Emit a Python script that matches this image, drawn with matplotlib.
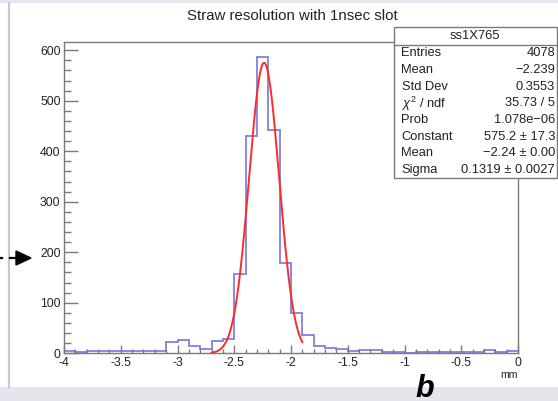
import numpy as np
import matplotlib
matplotlib.use("Agg")
import matplotlib.pyplot as plt
from matplotlib.patches import Rectangle, Polygon
from matplotlib.lines import Line2D
from matplotlib.ticker import MultipleLocator, FuncFormatter

# ---- data ----
bin_edges_range = (-4.0, 0.0)
n_bins = 40
counts = [5, 2, 4, 4, 4, 4, 5, 4, 5, 23,
          26, 15, 9, 25, 28, 157, 430, 587, 443, 179,
          80, 36, 15, 11, 8, 5, 7, 7, 3, 3,
          0, 3, 3, 3, 3, 2, 3, 7, 2, 4]
fit_constant = 575.2
fit_mean = -2.237
fit_sigma = 0.1319
fit_range = (-2.7, -1.9)
title = "Straw resolution with 1nsec slot"
stats_name = "ss1X765"
stats_labels = ["Entries", "Mean", "Std Dev", r"$\chi^2$ / ndf", "Prob",
                "Constant", "Mean", "Sigma"]
stats_values = ["4078", "\u22122.239", "0.3553", "35.73 / 5", "1.078e\u221206",
                "575.2 \u00b1 17.3", "\u22122.24 \u00b1 0.00", "0.1319 \u00b1 0.0027"]
y_ticks = [0, 100, 200, 300, 400, 500, 600]
x_ticks = [-4, -3.5, -3, -2.5, -2, -1.5, -1, -0.5, 0]

W, H = 558, 401
plt.rcParams['font.family'] = ['Liberation Sans', 'DejaVu Sans']
plt.rcParams['mathtext.fontset'] = 'custom'
plt.rcParams['mathtext.rm'] = 'Liberation Sans'
plt.rcParams['mathtext.it'] = 'Liberation Sans:italic'

fig = plt.figure(figsize=(W / 100, H / 100), dpi=100)
fig.patch.set_facecolor('white')

def fx(px):
    return px / W

def fy(py):
    return 1 - py / H

lav = '#e6e4ef'
# background bands
fig.patches.append(Rectangle((0, fy(3)), 1, 3 / H, transform=fig.transFigure,
                             facecolor=lav, edgecolor='none', zorder=0))
fig.patches.append(Rectangle((0, 0), 1, fy(387), transform=fig.transFigure,
                             facecolor=lav, edgecolor='none', zorder=0))
fig.lines.append(Line2D([fx(9), fx(9)], [fy(3), fy(387)], transform=fig.transFigure,
                        color='#c8c8d2', lw=1.6))

# arrow on the left
fig.lines.append(Line2D([fx(0), fx(2)], [fy(258), fy(258)], transform=fig.transFigure,
                        color='black', lw=1.6))
fig.lines.append(Line2D([fx(10), fx(18)], [fy(258), fy(258)], transform=fig.transFigure,
                        color='black', lw=1.6))
fig.patches.append(Polygon([[fx(16), fy(251)], [fx(31), fy(258)], [fx(16), fy(265)]],
                           closed=True, transform=fig.transFigure,
                           facecolor='black', edgecolor='black'))

# axes
ax_l, ax_r, ax_t, ax_b = 64, 518, 42, 353.3
ax = fig.add_axes([fx(ax_l), fy(ax_b), (ax_r - ax_l) / W, (ax_b - ax_t) / H])
ax.set_facecolor('white')

edges = np.linspace(bin_edges_range[0], bin_edges_range[1], n_bins + 1)
ax.stairs(counts, edges, color='#8080e4', lw=1.3, baseline=None)

xf = np.linspace(fit_range[0], fit_range[1], 300)
yf = fit_constant * np.exp(-0.5 * ((xf - fit_mean) / fit_sigma) ** 2)
ax.plot(xf, yf, color='#ff2a2a', lw=1.4)

ax.set_xlim(*bin_edges_range)
ax.set_ylim(0, 1.05 * max(counts))

for s in ax.spines.values():
    s.set_color('#7a7a7a')
    s.set_linewidth(1.0)

ax.set_xticks(x_ticks)
ax.set_yticks(y_ticks)
ax.xaxis.set_minor_locator(MultipleLocator(0.1))
ax.yaxis.set_minor_locator(MultipleLocator(20))

def xfmt(v, pos):
    return '%g' % v
ax.xaxis.set_major_formatter(FuncFormatter(xfmt))

ax.tick_params(axis='both', which='both', direction='in', color='#7a7a7a',
               labelcolor='#222222', labelsize=8.8, width=1.0)
ax.tick_params(axis='y', which='major', length=10, pad=2.5)
ax.tick_params(axis='y', which='minor', length=5)
ax.tick_params(axis='x', which='major', length=6, pad=3)
ax.tick_params(axis='x', which='minor', length=3)

# title
fig.text(fx(292), fy(16.5), title, ha='center', va='center', fontsize=10.8,
         color='#222222')

# x axis label
fig.text(fx(518), fy(375), "mm", ha='right', va='center', fontsize=7.6,
         color='#222222')

# 'b' annotation
fig.text(fx(425), fy(397), "b", ha='center', va='baseline', fontsize=22,
         fontweight='bold', fontstyle='italic', color='black')

# stats box
bx0, bx1, by0, by1, bsep = 394, 556.5, 27.3, 177.7, 45
fig.patches.append(Rectangle((fx(bx0), fy(by1)), (bx1 - bx0) / W, (by1 - by0) / H,
                             transform=fig.transFigure, facecolor='white',
                             edgecolor='#7a7a7a', lw=1.0, zorder=5))
fig.lines.append(Line2D([fx(bx0), fx(bx1)], [fy(bsep), fy(bsep)],
                        transform=fig.transFigure, color='#7a7a7a', lw=1.0, zorder=6))
fig.text(fx((bx0 + bx1) / 2), fy(36.3), stats_name, ha='center', va='center',
         fontsize=9.4, color='#222222', zorder=7)
for i, (lab, val) in enumerate(zip(stats_labels, stats_values)):
    y = 53.5 + i * 16.65
    fig.text(fx(401.5), fy(y), lab, ha='left', va='center', fontsize=9.3,
             color='#222222', zorder=7)
    fig.text(fx(555), fy(y), val, ha='right', va='center', fontsize=9.3,
             color='#222222', zorder=7)

fig.savefig('out.png', dpi=100, facecolor=fig.get_facecolor())
